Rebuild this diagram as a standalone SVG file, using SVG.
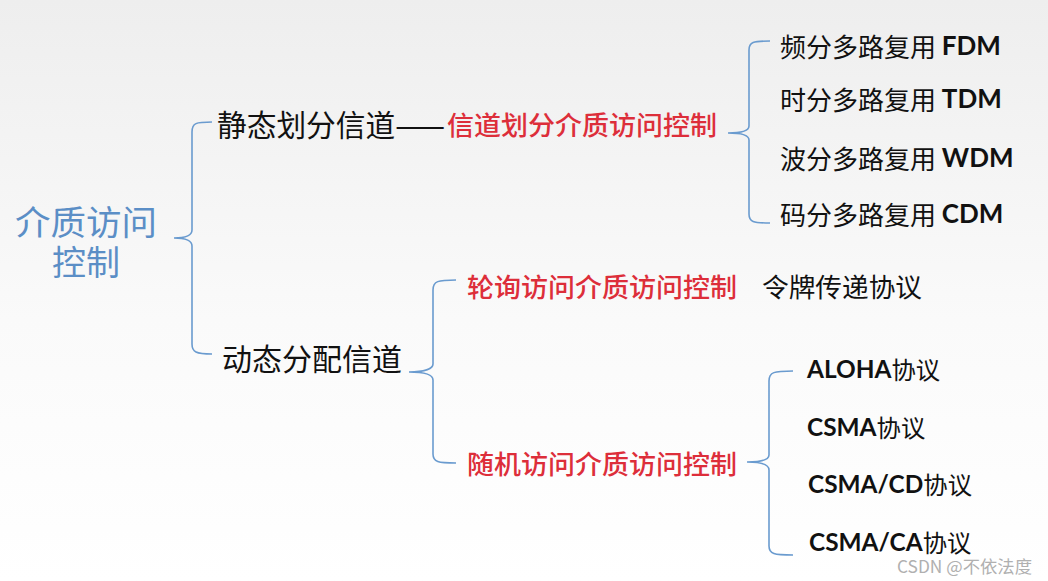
<svg xmlns="http://www.w3.org/2000/svg" width="1048" height="581" viewBox="0 0 1048 581">
<defs>
<linearGradient id="bg" x1="0" y1="0" x2="0" y2="1">
<stop offset="0" stop-color="#eeeeee"/>
<stop offset="0.55" stop-color="#fafafa"/>
<stop offset="1" stop-color="#ffffff"/>
</linearGradient>
</defs>
<style>
text{font-family:"Noto Sans CJK SC","Noto Sans",sans-serif;dominant-baseline:central}
.root{font-size:34px;fill:#5b8ec6}
.l1{font-size:30px;fill:#111}
.red{font-size:26px;fill:#dd2e3a;font-weight:500}
.item{font-size:26px;fill:#111}
.proto{font-size:24.4px;fill:#111}
.lat{font-family:"Lato","Noto Sans CJK SC",sans-serif;font-weight:bold}
.wm{font-size:17px;fill:#b0b0b0}
.brace{fill:none;stroke:#6a9bcf;stroke-width:1.6}
</style>
<rect width="1048" height="581" fill="url(#bg)"/>
<g id="connectors">
<path class="brace" d="M212,122 C196,122 192,123 192,132 L192,230 C192,236 186,238 174,238 C186,238 192,240 192,246 L192,344 C192,352 196,354 212,354"/>
<path class="brace" d="M770,41 C753,41 749,42 749,50 L749,126 C749,131 742,133 728,133 C742,133 749,135 749,140 L749,214 C749,222 753,223 770,223"/>
<path class="brace" d="M456,280 C438,280 433,281 433,290 L433,364 C433,369 424,372 409,372 C424,372 433,374 433,380 L433,454 C433,462 438,463 456,463"/>
<path class="brace" d="M793,371 C774,371 769,372 769,381 L769,455 C769,460 760,462 747,462 C760,462 769,464 769,470 L769,546 C769,554 774,555 793,555"/>
</g>
<g id="root">
<text class="root" x="86" y="220" text-anchor="middle" textLength="142" lengthAdjust="spacingAndGlyphs">介质访问</text>
<text class="root" x="86" y="260" text-anchor="middle">控制</text>
</g>
<g id="static">
<text class="l1" x="217" y="123" textLength="228" lengthAdjust="spacingAndGlyphs">静态划分信道——</text>
<text class="red" x="447" y="123" textLength="270" lengthAdjust="spacingAndGlyphs">信道划分介质访问控制</text>
</g>
<g id="fdm"><text class="item" x="780" y="45">频分多路复用 <tspan class="lat">FDM</tspan></text></g>
<g id="tdm"><text class="item" x="780" y="98">时分多路复用 <tspan class="lat">TDM</tspan></text></g>
<g id="wdm"><text class="item" x="780" y="157">波分多路复用 <tspan class="lat">WDM</tspan></text></g>
<g id="cdm"><text class="item" x="780" y="213">码分多路复用 <tspan class="lat">CDM</tspan></text></g>
<g id="dynamic"><text class="l1" x="222" y="357">动态分配信道</text></g>
<g id="polling">
<text class="red" x="467" y="285" textLength="270" lengthAdjust="spacingAndGlyphs">轮询访问介质访问控制</text>
<text class="item" x="762" y="285" textLength="160" lengthAdjust="spacingAndGlyphs">令牌传递协议</text>
</g>
<g id="random"><text class="red" x="467" y="462" textLength="270" lengthAdjust="spacingAndGlyphs">随机访问介质访问控制</text></g>
<g id="aloha"><text class="proto" x="807" y="368"><tspan class="lat">ALOHA</tspan>协议</text></g>
<g id="csma"><text class="proto" x="807" y="426"><tspan class="lat">CSMA</tspan>协议</text></g>
<g id="csmacd"><text class="proto" x="808" y="483"><tspan class="lat">CSMA/CD</tspan>协议</text></g>
<g id="csmaca"><text class="proto" x="809" y="541"><tspan class="lat">CSMA/CA</tspan>协议</text></g>
<text class="wm" x="897" y="565" textLength="135" lengthAdjust="spacingAndGlyphs">CSDN @不依法度</text>
</svg>
